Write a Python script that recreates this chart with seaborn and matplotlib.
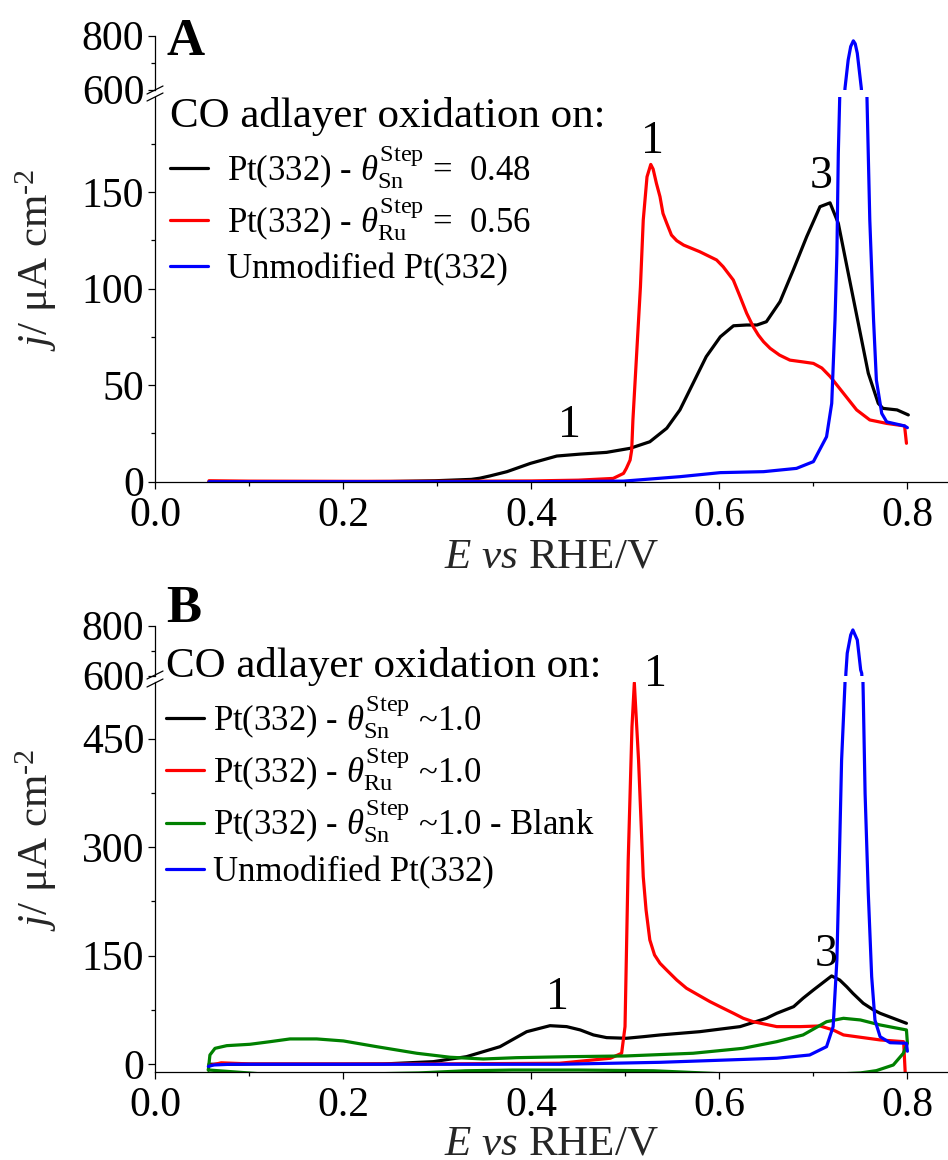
import matplotlib
matplotlib.use("Agg")
import matplotlib.pyplot as plt
from matplotlib.lines import Line2D
from matplotlib.ticker import MultipleLocator, FixedLocator
from matplotlib.transforms import ScaledTranslation
import pandas as pd
import seaborn as sns

# ---------------- Panel A: CO adlayer oxidation, partial step coverage ----------------
a_sn_E = [0.057, 0.10, 0.15, 0.20, 0.25, 0.298, 0.336, 0.345, 0.356, 0.374, 0.399, 0.427,
          0.452, 0.480, 0.505, 0.526, 0.544, 0.558, 0.572, 0.586, 0.601, 0.615, 0.629,
          0.640, 0.650, 0.6645, 0.6786, 0.6929, 0.707, 0.7177, 0.7265, 0.7371, 0.7478,
          0.7584, 0.769, 0.774, 0.789, 0.801]
a_sn_j = [0.0, 0.0, 0.0, 0.0, 0.1, 0.5, 1.2, 1.8, 3.0, 5.2, 9.5, 13.3,
          14.3, 15.2, 17.3, 20.7, 27.7, 37.2, 51.0, 64.8, 75.1, 80.8, 81.2,
          81.2, 82.9, 93.3, 109.7, 127.0, 142.5, 144.5, 133.9, 108.0, 82.0,
          56.2, 40.6, 38.0, 37.2, 34.6]

a_ru_E = [0.057, 0.10, 0.20, 0.30, 0.40, 0.45, 0.487, 0.498, 0.501, 0.505, 0.5067, 0.508,
          0.512, 0.516, 0.519, 0.523, 0.527, 0.5295, 0.533, 0.5368, 0.540, 0.544, 0.549,
          0.5546, 0.562, 0.579, 0.597, 0.604, 0.6148, 0.622, 0.629, 0.636, 0.6414, 0.647,
          0.654, 0.664, 0.675, 0.690, 0.700, 0.709, 0.718, 0.732, 0.746, 0.760, 0.778,
          0.797, 0.799]
a_ru_j = [0.5, 0.3, 0.2, 0.2, 0.4, 0.8, 1.7, 4.3, 6.9, 11.2, 16.4, 32.0,
          66.5, 101.0, 135.6, 158.0, 164.4, 162.0, 154.6, 147.7, 139.0, 133.9, 127.8,
          124.9, 122.6, 119.2, 114.9, 111.4, 104.5, 95.9, 87.3, 80.3, 76.0, 72.5,
          69.1, 65.6, 63.0, 62.0, 61.3, 58.9, 54.4, 45.8, 37.2, 32.0, 30.2,
          28.9, 19.9]

a_pt_E = [0.057, 0.20, 0.40, 0.498, 0.558, 0.601, 0.647, 0.682, 0.700, 0.714, 0.7195,
          0.723, 0.725, 0.7265, 0.728, 0.7336, 0.737, 0.7397, 0.7425, 0.7445, 0.7467,
          0.751, 0.757, 0.760, 0.764, 0.767, 0.7727, 0.778, 0.797, 0.800]
a_pt_j = [0.0, 0.0, 0.0, 0.3, 2.6, 4.7, 5.2, 6.9, 10.4, 23.3, 40.6,
          83.8, 118.0, 170.0, 199.0, 605.0, 710.0, 760.0, 781.0, 770.0, 735.0,
          605.0, 199.0, 135.6, 83.8, 52.7, 35.4, 31.0, 28.9, 28.0]

# ---------------- Panel B: CO adlayer oxidation, full step coverage ----------------
b_sn_E = [0.057, 0.10, 0.20, 0.2425, 0.2956, 0.331, 0.3666, 0.395, 0.4198, 0.4375, 0.452,
          0.466, 0.480, 0.501, 0.519, 0.537, 0.579, 0.622, 0.650, 0.661, 0.679, 0.689,
          0.700, 0.7194, 0.728, 0.7355, 0.742, 0.753, 0.764, 0.771, 0.785, 0.799]
b_sn_j = [0.0, 0.0, 0.0, 0.4, 3.6, 10.5, 24.3, 45.0, 53.3, 52.0, 47.4,
          40.5, 36.8, 35.9, 38.1, 40.5, 45.0, 52.0, 63.5, 70.4, 79.6, 91.2,
          102.6, 122.0, 116.4, 107.0, 98.0, 84.3, 75.0, 70.4, 63.5, 56.6]

b_ru_E = [0.057, 0.07, 0.09, 0.10, 0.20, 0.30, 0.43, 0.484, 0.496, 0.4996, 0.503, 0.507,
          0.5095, 0.514, 0.519, 0.522, 0.526, 0.531, 0.5368, 0.544, 0.5546, 0.565,
          0.5794, 0.590, 0.6006, 0.615, 0.6254, 0.636, 0.661, 0.686, 0.707, 0.721,
          0.732, 0.750, 0.771, 0.796, 0.798]
b_ru_j = [-2.0, 2.0, 1.0, 0.5, 0.5, 0.5, 1.4, 8.3, 15.2, 52.0, 282.0, 466.0,
          527.0, 420.0, 259.0, 213.0, 171.7, 151.0, 139.5, 130.0, 116.4, 105.0,
          94.3, 86.5, 79.6, 70.4, 63.5, 58.8, 52.0, 52.0, 52.9, 47.4,
          40.5, 37.3, 33.6, 31.2, -20.0]

# blank voltammogram: anodic sweep followed by the cathodic return
b_blank_E = [0.0563, 0.058, 0.0634, 0.0759, 0.1006, 0.122, 0.1432, 0.1716, 0.200, 0.2354,
             0.278, 0.3134, 0.3488, 0.3843, 0.441, 0.501, 0.572, 0.625, 0.661, 0.689,
             0.714, 0.732, 0.750, 0.771, 0.799, 0.800, 0.7957, 0.785, 0.767, 0.750,
             0.700, 0.600, 0.530, 0.450, 0.380, 0.330, 0.280, 0.200, 0.120, 0.0563]
b_blank_j = [-7.9, 12.8, 22.0, 25.7, 27.6, 31.2, 35.0, 35.0, 32.2, 24.3,
             15.2, 9.7, 7.3, 9.1, 10.5, 11.5, 15.2, 22.0, 31.2, 40.5,
             58.8, 63.5, 61.2, 54.3, 47.4, 29.0, 15.2, -1.0, -8.8, -12.0,
             -15.0, -13.0, -9.0, -8.0, -8.0, -9.0, -12.0, -14.0, -14.0, -7.9]

b_pt_E = [0.0563, 0.062, 0.08, 0.20, 0.43, 0.537, 0.608, 0.661, 0.696, 0.714, 0.721,
          0.725, 0.7276, 0.730, 0.7336, 0.7346, 0.736, 0.7397, 0.742, 0.7467, 0.7503,
          0.7514, 0.753, 0.755, 0.7584, 0.762, 0.7655, 0.771, 0.7815, 0.799, 0.800]
b_pt_j = [-3.0, -1.0, 0.0, 0.0, 0.0, 2.7, 5.9, 8.3, 12.8, 24.3, 52.0,
          144.0, 282.0, 420.0, 526.0, 612.0, 690.0, 763.0, 783.0, 743.0, 623.0,
          610.0, 512.0, 374.0, 236.0, 121.0, 61.0, 38.0, 29.8, 29.0, 18.0]

a_labels = [r"Pt(332) - $\theta^{\rm Step}_{\rm Sn}$ =  0.48",
            r"Pt(332) - $\theta^{\rm Step}_{\rm Ru}$ =  0.56",
            "Unmodified Pt(332)"]
b_labels = [r"Pt(332) - $\theta^{\rm Step}_{\rm Sn}$ ~1.0",
            r"Pt(332) - $\theta^{\rm Step}_{\rm Ru}$ ~1.0",
            r"Pt(332) - $\theta^{\rm Step}_{\rm Sn}$ ~1.0 - Blank",
            "Unmodified Pt(332)"]
legend_title = "CO adlayer oxidation on:"
x_ticks = [0.0, 0.2, 0.4, 0.6, 0.8]

BLACK, RED, GREEN, BLUE = "#000000", "#ff0000", "#008000", "#0000ff"

sns.set_style("ticks")
plt.rcParams.update({
    "font.family": ["Liberation Serif", "DejaVu Serif"],
    "mathtext.fontset": "custom",
    "mathtext.rm": "Liberation Serif",
    "mathtext.it": "Liberation Serif:italic",
    "mathtext.bf": "Liberation Serif:bold",
    "axes.edgecolor": "black",
    "axes.linewidth": 0.9,
    "xtick.color": "black",
    "ytick.color": "black",
    "text.color": "black",
})

W, H = 948, 1160
fig = plt.figure(figsize=(W / 100, H / 100), dpi=100)


def fx(px):
    return px / W


def fy(py):
    return 1 - py / H


X_MAX = 0.8432
TICK_FS = 30
LABEL_FS = 31
LEG_FS = 25
NUM_FS = 33
Y_LABEL = "$j$/ μA cm$^{\u2010\\mathregular{2}}$"


def style_ticks(ax):
    ax.tick_params(axis="both", which="major", direction="out", length=5, width=0.9,
                   labelsize=TICK_FS, pad=3)
    ax.tick_params(axis="both", which="minor", direction="out", length=3, width=0.9)


def make_panel(top_px, mid_px, low_top_px, bottom_px, low_ylim, low_major, low_minor, curves,
               labels, leg_anchor, handle_pad, last_row_drop, title_xy, letter, letter_xy,
               notes, breaks, xlabel_pad):
    left = 155.4
    ax_top = fig.add_axes([fx(left), fy(mid_px), 1 - fx(left), (mid_px - top_px) / H])
    ax_low = fig.add_axes([fx(left), fy(bottom_px), 1 - fx(left), (bottom_px - low_top_px) / H])

    handles = []
    for E, j, color in curves:
        df = pd.DataFrame({"E": E, "j": j})
        for ax in (ax_top, ax_low):
            sns.lineplot(data=df, x="E", y="j", sort=False, estimator=None, color=color,
                         lw=2.3, ax=ax, legend=False)
        handles.append(Line2D([], [], color=color, lw=2.3))

    # upper (broken) segment of the current axis
    ax_top.set_xlim(0, X_MAX)
    ax_top.set_ylim(600, 800)
    ax_top.yaxis.set_major_locator(FixedLocator([600, 800]))
    ax_top.yaxis.set_minor_locator(FixedLocator([700]))
    ax_top.xaxis.set_visible(False)
    for s in ("top", "right", "bottom"):
        ax_top.spines[s].set_visible(False)
    ax_top.set_xlabel("")
    ax_top.set_ylabel("")
    ax_top.patch.set_alpha(0)
    style_ticks(ax_top)

    # lower segment
    ax_low.set_xlim(0, X_MAX)
    ax_low.set_ylim(*low_ylim)
    ax_low.xaxis.set_major_locator(FixedLocator(x_ticks))
    ax_low.xaxis.set_minor_locator(MultipleLocator(0.1))
    ax_low.set_xticklabels([f"{t:.1f}" for t in x_ticks])
    ax_low.yaxis.set_major_locator(FixedLocator(low_major))
    ax_low.yaxis.set_minor_locator(FixedLocator(low_minor))
    for s in ("top", "right"):
        ax_low.spines[s].set_visible(False)
    ax_low.patch.set_alpha(0)
    style_ticks(ax_low)
    ax_low.tick_params(axis="x", which="major", pad=6)

    ax_low.set_xlabel(r"$E$ $vs$ RHE/V", fontsize=LABEL_FS, labelpad=xlabel_pad)
    ax_low.set_ylabel(Y_LABEL, fontsize=LABEL_FS, va="center")
    ax_low.yaxis.set_label_coords((36 - left) / (W - left),
                                  (bottom_px - breaks[2]) / (bottom_px - low_top_px))

    leg = ax_low.legend(handles, labels, loc="upper left", bbox_to_anchor=leg_anchor,
                        bbox_transform=fig.transFigure, frameon=False, fontsize=LEG_FS,
                        handlelength=1.1, handletextpad=handle_pad, borderpad=0,
                        borderaxespad=0, labelspacing=0.14)
    # the plain-text last row is shorter than the rows with stacked indices;
    # nudge it down so the rows stay evenly spaced
    shift = ScaledTranslation(0, -last_row_drop / 100, fig.dpi_scale_trans)
    txt = leg.get_texts()[-1]
    txt.set_transform(txt.get_transform() + shift)
    hnd = leg.legend_handles[-1]
    hnd.set_transform(hnd.get_transform() + shift)

    fig.text(fx(title_xy[0]), fy(title_xy[1]), legend_title, fontsize=LABEL_FS,
             ha="left", va="baseline")
    fig.text(fx(letter_xy[0]), fy(letter_xy[1]), letter, fontsize=38, fontweight="bold",
             ha="left", va="baseline")

    for E, j, txt in notes:
        ax_low.text(E, j, txt, fontsize=NUM_FS, ha="center", va="center", clip_on=False)

    # break marks on the current axis
    for y0 in (breaks[0], breaks[1]):
        fig.add_artist(Line2D([fx(147), fx(163)], [fy(y0 + 4), fy(y0 - 4)],
                              color="black", lw=0.9))
    return ax_top, ax_low


make_panel(35.7, 89.7, 96.7, 481.7, (0, 199.5), [0, 50, 100, 150], [25, 75, 125, 175],
           [(a_sn_E, a_sn_j, BLACK), (a_ru_E, a_ru_j, RED), (a_pt_E, a_pt_j, BLUE)],
           a_labels, (fx(170), fy(143)), 0.54, 5, (170, 127), "A", (166.7, 55),
           [(0.440, 28.9, "1"), (0.5284, 176.0, "1"), (0.7087, 158.0, "3")],
           (90, 97, 260), 2)

make_panel(625.7, 675.7, 681.7, 1071.5, (-10, 528.5), [0, 150, 300, 450], [75, 225, 375],
           [(b_sn_E, b_sn_j, BLACK), (b_ru_E, b_ru_j, RED), (b_blank_E, b_blank_j, GREEN),
            (b_pt_E, b_pt_j, BLUE)],
           b_labels, (fx(166), fy(693)), 0.26, 6, (165.7, 676.7), "B", (165.7, 622),
           [(0.4272, 91.6, "1"), (0.5315, 537.7, "1"), (0.7134, 151.0, "3")],
           (675, 683, 840), 0)

fig.savefig("out.png", dpi=100)
